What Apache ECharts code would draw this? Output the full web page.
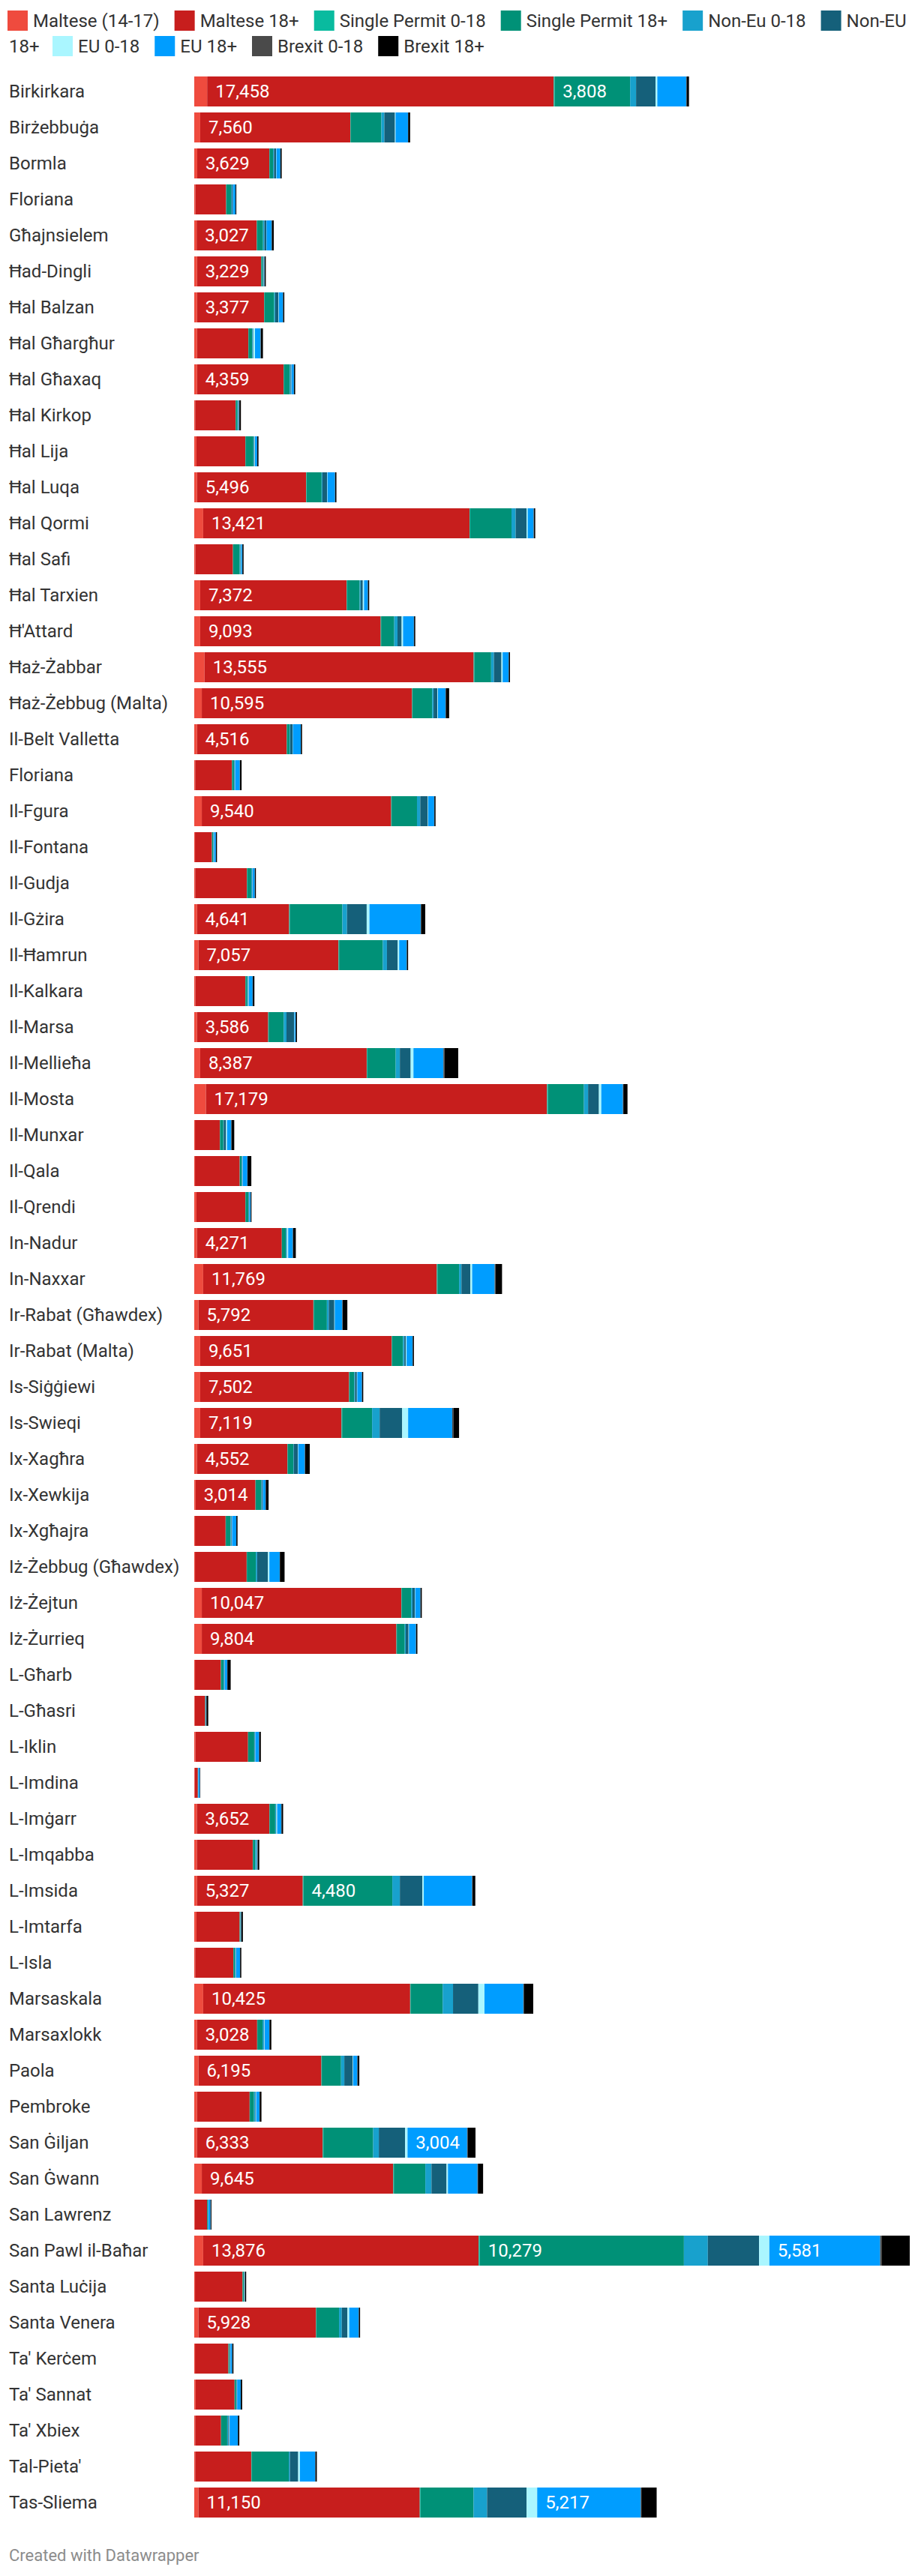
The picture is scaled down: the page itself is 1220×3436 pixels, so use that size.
<!DOCTYPE html>
<html><head><meta charset="utf-8">
<script src="https://cdn.jsdelivr.net/npm/echarts@6/dist/echarts.min.js"></script>
<style>html,body{margin:0;padding:0;background:#fff}#c{width:1220px;height:3436px}</style>
</head><body><div id="c"></div>
<script>
const categories = ["Birkirkara","Birżebbuġa","Bormla","Floriana","Għajnsielem","Ħad-Dingli","Ħal Balzan","Ħal Għargħur","Ħal Għaxaq","Ħal Kirkop",
"Ħal Lija","Ħal Luqa","Ħal Qormi","Ħal Safi","Ħal Tarxien","Ħ'Attard","Ħaż-Żabbar","Ħaż-Żebbug (Malta)","Il-Belt Valletta","Floriana",
"Il-Fgura","Il-Fontana","Il-Gudja","Il-Gżira","Il-Ħamrun","Il-Kalkara","Il-Marsa","Il-Mellieħa","Il-Mosta","Il-Munxar",
"Il-Qala","Il-Qrendi","In-Nadur","In-Naxxar","Ir-Rabat (Għawdex)","Ir-Rabat (Malta)","Is-Siġġiewi","Is-Swieqi","Ix-Xagħra","Ix-Xewkija",
"Ix-Xgħajra","Iż-Żebbug (Għawdex)","Iż-Żejtun","Iż-Żurrieq","L-Għarb","L-Għasri","L-Iklin","L-Imdina","L-Imġarr","L-Imqabba",
"L-Imsida","L-Imtarfa","L-Isla","Marsaskala","Marsaxlokk","Paola","Pembroke","San Ġiljan","San Ġwann","San Lawrenz",
"San Pawl il-Baħar","Santa Luċija","Santa Venera","Ta' Kerċem","Ta' Sannat","Ta' Xbiex","Tal-Pieta'","Tas-Sliema"];

const seriesNames = ["Maltese (14-17)","Maltese 18+","Single Permit 0-18","Single Permit 18+","Non-Eu 0-18","Non-EU 18+","EU 0-18","EU 18+","Brexit 0-18","Brexit 18+"];

const maltese1417 = [650,300,150,60,120,140,140,140,140,50, 110,140,450,60,300,300,520,380,140,50, 380,40,50,140,210,60,140,300,590,40, 40,110,140,450,210,300,300,300,140,70, 40,40,380,380,40,30,60,30,130,130, 140,110,50,450,140,210,140,140,380,30, 450,40,210,40,70,50,50,210];
const maltese18 = [17458,7560,3629,1545,3027,3229,3377,2580,4359,2030, 2460,5496,13421,1890,7372,9093,13555,10595,4516,1845, 9540,850,2600,4641,7057,2510,3586,8387,17179,1250, 2250,2460,4271,11769,5792,9651,7502,7119,4552,3014, 1540,2600,10047,9804,1300,520,2650,150,3652,2815, 5327,2175,1915,10425,3028,6195,2650,6333,9645,615, 13876,2390,5928,1680,1960,1300,2820,11150];
const singlePermit018 = [40,20,10,10,10,10,10,10,10,10, 10,20,30,10,20,20,30,20,10,10, 20,10,10,30,30,10,20,20,40,10, 10,10,10,30,20,20,20,30,10,10, 10,10,20,20,10,0,10,0,10,10, 30,10,10,30,10,20,10,30,30,0, 60,10,20,10,10,10,20,40];
const singlePermit18 = [3808,1545,180,240,307,80,500,190,300,90, 400,760,2080,330,640,660,850,990,140,95, 1280,60,210,2650,2200,90,760,1440,1820,165, 90,140,190,1090,660,545,235,1510,285,285, 235,450,475,400,120,20,300,10,285,120, 4480,25,70,1610,260,970,210,2510,1585,40, 10279,60,1135,40,70,300,1870,2670];
const nonEu018 = [300,150,50,30,70,30,50,40,40,30, 30,40,210,40,50,165,140,70,30,30, 165,20,40,235,210,40,140,210,210,20, 20,20,40,120,95,70,40,380,25,25, 40,70,70,50,40,10,25,5,40,60, 380,10,40,520,70,165,70,285,310,10, 1205,10,140,20,20,50,60,680];
const nonEu18 = [980,535,100,50,95,20,165,20,40,20, 30,235,545,20,110,210,380,190,120,20, 380,10,20,990,545,20,380,545,545,120, 20,20,20,450,280,70,95,1135,210,40, 30,545,120,140,20,10,20,5,20,20, 1135,10,20,1275,20,425,20,1325,760,10, 2580,10,285,20,20,50,415,1990];
const eu018 = [90,30,20,10,10,10,20,80,10,10, 20,20,60,10,60,70,60,30,10,10, 20,10,10,140,70,20,20,140,120,50, 10,10,60,90,20,40,20,300,20,10, 10,70,20,20,10,0,10,5,40,10, 70,5,10,310,20,20,20,120,70,5, 520,10,90,10,10,20,90,535];
const eu18 = [1455,625,200,130,260,20,210,280,120,20, 110,380,300,60,190,545,300,380,400,235, 300,90,110,2580,380,190,60,1510,1090,210, 235,70,235,1135,380,300,235,2220,330,140, 210,520,260,355,120,20,190,80,210,20, 2435,20,190,1960,235,210,165,3004,1490,110, 5581,20,475,90,180,415,770,5217];
const brexit018 = [20,10,5,5,10,5,5,20,5,10, 5,10,20,5,10,10,10,20,5,10, 10,5,5,20,10,10,10,60,20,10, 10,5,10,40,20,10,5,60,10,10, 5,10,10,10,10,5,10,0,10,10, 20,5,5,20,10,10,10,40,20,5, 70,5,10,5,5,5,10,30];
const brexit18 = [120,100,60,40,95,60,60,100,60,80, 60,60,60,60,60,60,60,165,60,80, 60,50,50,210,60,80,60,685,210,140, 190,40,140,330,235,60,60,285,235,140, 60,235,60,60,165,90,80,20,80,80, 140,80,60,475,90,90,90,380,260,40, 1420,60,60,60,70,70,70,770];

const colors = ["#ef4b3e","#c71e1d","#09bb9f","#009177","#18a1cd","#15607a","#aaf6ff","#009dff","#4a4a4a","#000000"];
const footerText = "Created with Datawrapper";

const dataArrays = [maltese1417, maltese18, singlePermit018, singlePermit18, nonEu018, nonEu18, eu018, eu18, brexit018, brexit18];
const totals = categories.map((_, i) => dataArrays.reduce((s, a) => s + a[i], 0));
const maxTotal = Math.max.apply(null, totals);

const FONT = 'Roboto';
const FS = 24;
const chart = echarts.init(document.getElementById('c'), null, {renderer: 'svg'});

const series = seriesNames.map((name, k) => ({
  name: name,
  type: 'bar',
  stack: 'total',
  barWidth: 40,
  itemStyle: {color: colors[k]},
  emphasis: {disabled: true},
  label: {
    show: true,
    position: 'insideLeft',
    distance: 11,
    color: '#ffffff',
    fontFamily: FONT,
    fontSize: FS,
    formatter: p => p.value >= 3000 ? Number(p.value).toLocaleString('en-US') : ''
  },
  data: dataArrays[k]
}));

const legendCommon = {
  icon: 'rect',
  itemWidth: 27,
  itemHeight: 27,
  itemGap: 20,
  padding: 0,
  width: 1600,
  orient: 'horizontal',
  selectedMode: false,
  textStyle: {fontFamily: FONT, fontSize: FS, color: '#333333', padding: [0, 0, 0, 2]}
};

chart.setOption({
  animation: false,
  backgroundColor: '#ffffff',
  color: colors,
  legend: [
    Object.assign({}, legendCommon, {
      left: 10, top: 14,
      data: seriesNames.slice(0, 6),
      formatter: n => n === 'Non-EU 18+' ? 'Non-EU' : n
    }),
    Object.assign({}, legendCommon, {
      left: 70, top: 48,
      data: seriesNames.slice(6)
    })
  ],
  graphic: [
    {type: 'text', left: 12, top: 50, style: {text: '18+', fontFamily: FONT, fontSize: FS, fill: '#333333'}},
    {type: 'text', left: 12, top: 3397, style: {text: footerText, fontFamily: FONT, fontSize: 22, fill: '#8c8c8c'}}
  ],
  grid: {left: 259, right: 7, top: 98, height: 3264, containLabel: false},
  xAxis: {type: 'value', min: 0, max: maxTotal, show: false},
  yAxis: {
    type: 'category',
    inverse: true,
    data: categories,
    axisLine: {show: false},
    axisTick: {show: false},
    splitLine: {show: false},
    axisLabel: {
      align: 'left',
      margin: 247,
      fontFamily: FONT,
      fontSize: FS,
      color: '#333333'
    }
  },
  series: series
});
</script>
</body></html>
